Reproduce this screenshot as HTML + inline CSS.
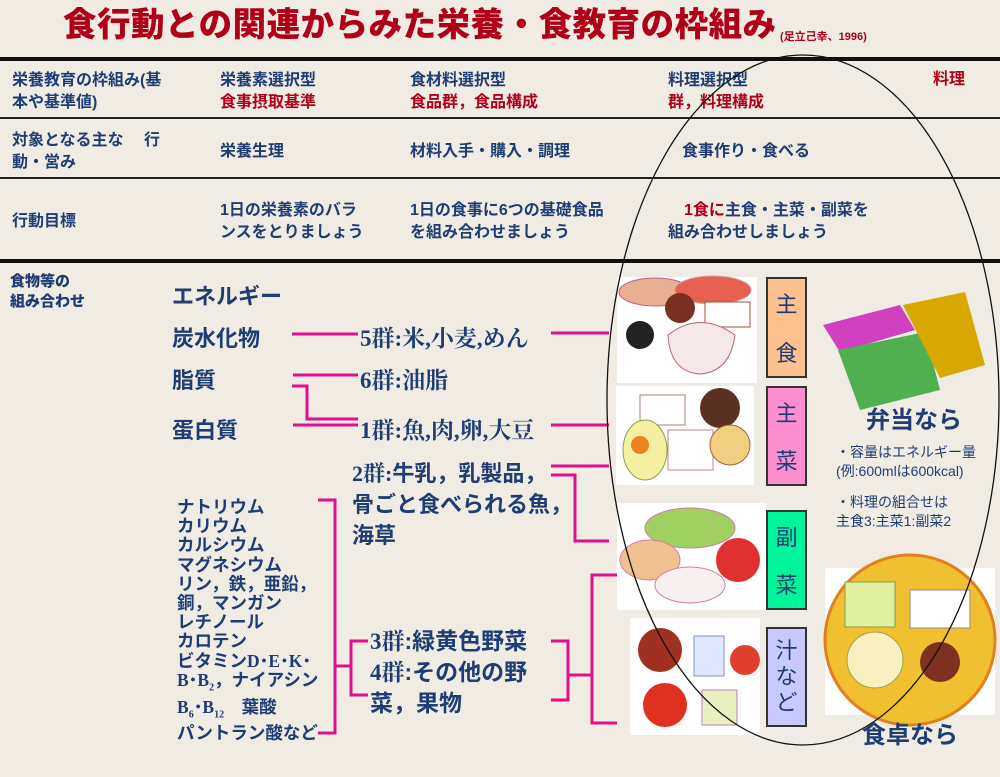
<!DOCTYPE html>
<html><head><meta charset="utf-8"><style>
body{margin:0;width:1000px;height:777px;background:#f0ece3;position:relative;overflow:hidden;font-family:"Liberation Sans","Noto Sans CJK JP",sans-serif;color:#1f3d73;font-weight:bold}
.t{position:absolute;white-space:nowrap;line-height:1.2}
.r{color:#b00018}
.s{font-family:"Liberation Serif","Noto Serif CJK SC",serif}
.bx{position:absolute;border:2px solid #333;box-sizing:border-box;width:41px;font-size:22px;font-weight:normal;color:#1f3d73;text-align:center;display:flex;flex-direction:column;justify-content:space-around;align-items:center}
</style></head><body>
<div class="t r" style="left:63px;top:6px;font-size:33.5px;letter-spacing:0.5px;font-weight:900">食行動との関連からみた栄養・食教育の枠組み</div>
<div class="t r" style="left:780px;top:31px;font-size:11px">(足立己幸、1996)</div>

<div class="t" style="left:12px;top:70px;font-size:16px;line-height:22px">栄養教育の枠組み(基<br>本や基準値)</div>
<div class="t" style="left:220px;top:70px;font-size:16px;line-height:22px">栄養素選択型<br><span class="r">食事摂取基準</span></div>
<div class="t" style="left:410px;top:70px;font-size:16px;line-height:22px">食材料選択型<br><span class="r">食品群，食品構成</span></div>
<div class="t" style="left:668px;top:70px;font-size:16px;line-height:22px">料理選択型<br><span class="r">群，料理構成</span></div>
<div class="t r" style="left:933px;top:70px;font-size:16px">料理</div>

<div class="t" style="left:12px;top:130px;font-size:16px;line-height:22px">対象となる主な　 行<br>動・営み</div>
<div class="t" style="left:220px;top:142px;font-size:16px">栄養生理</div>
<div class="t" style="left:410px;top:142px;font-size:16px">材料入手・購入・調理</div>
<div class="t" style="left:682px;top:142px;font-size:16px">食事作り・食べる</div>

<div class="t" style="left:12px;top:212px;font-size:16px">行動目標</div>
<div class="t" style="left:220px;top:200px;font-size:16px;line-height:22px">1日の栄養素のバラ<br>ンスをとりましょう</div>
<div class="t" style="left:410px;top:200px;font-size:16px;line-height:22px">1日の食事に6つの基礎食品<br>を組み合わせましょう</div>
<div class="t" style="left:668px;top:200px;font-size:16px;line-height:22px">　<span class="r">1食に</span>主食・主菜・副菜を<br>組み合わせしましょう</div>

<div style="position:absolute;left:0;top:57px;width:1000px;height:4px;background:#111"></div>
<div style="position:absolute;left:0;top:117px;width:1000px;height:2px;background:#222"></div>
<div style="position:absolute;left:0;top:177px;width:1000px;height:2px;background:#222"></div>
<div style="position:absolute;left:0;top:259px;width:1000px;height:4px;background:#111"></div>

<div class="t" style="left:10px;top:272px;font-size:15px;line-height:20px;font-weight:900">食物等の<br>組み合わせ</div>
<div class="t" style="left:172px;top:284px;font-size:22px">エネルギー</div>
<div class="t" style="left:172px;top:326px;font-size:22px">炭水化物</div>
<div class="t" style="left:172px;top:368px;font-size:22px">脂質</div>
<div class="t" style="left:172px;top:418px;font-size:22px">蛋白質</div>
<div class="t s" style="left:360px;top:325px;font-size:23px">5群:米,小麦,めん</div>
<div class="t s" style="left:360px;top:367px;font-size:23px">6群:油脂</div>
<div class="t s" style="left:360px;top:417px;font-size:23px">1群:魚,肉,卵,大豆</div>
<div class="t" style="left:352px;top:458px;font-size:22px;line-height:31px"><span class="s">2群:</span>牛乳，乳製品，<br>骨ごと食べられる魚，<br>海草</div>
<div class="t" style="left:177px;top:498px;font-size:17.5px;line-height:19.2px">ナトリウム<br>カリウム<br>カルシウム<br>マグネシウム<br>リン，鉄，亜鉛，<br>銅，マンガン<br>レチノール<br>カロテン<br>ビタミン<span class="s">D･E･K･</span><br><span class="s">B･B<sub style="font-size:10px">2</sub></span>，ナイアシン<br><span class="s">B<sub style="font-size:10px">6</sub>･B<sub style="font-size:10px">12</sub></span>　葉酸<br>パントラン酸など</div>
<div class="t" style="left:370px;top:626px;font-size:23px;line-height:30px"><span class="s">3群</span>:緑黄色野菜<br><span class="s">4群</span>:その他の野<br>菜，果物</div>

<svg style="position:absolute;left:0;top:0" width="1000" height="777">
<g stroke="#e0108c" stroke-width="3" fill="none">
<path d="M292 334H358M551 333H609M293 375H358M292 386H307V419H358M293 425H358M551 425H609M551 466H609M551 475H575V541H609M318 500H335V733H318M335 666H351M368 641H351V695H368M551 641H568V700H551M568 675H592M617 575H592V723H617"/>
</g>
<rect x="617" y="277" width="140" height="106" fill="#fff"/>
<ellipse cx="655" cy="292" rx="36" ry="14" fill="#e8b090" stroke="#c06080"/>
<ellipse cx="713" cy="290" rx="38" ry="14" fill="#e86050" stroke="#d0a0a0"/>
<circle cx="680" cy="308" r="15" fill="#7a3020"/>
<rect x="705" y="302" width="45" height="25" fill="#fff" stroke="#a05040"/>
<circle cx="640" cy="335" r="14" fill="#222"/>
<path d="M668 335Q700 310 735 335Q730 372 700 374Q670 372 668 335Z" fill="#f4e8e8" stroke="#c06080"/>
<rect x="616" y="386" width="138" height="99" fill="#fff"/>
<rect x="640" y="395" width="45" height="30" fill="#fff" stroke="#a08080"/>
<circle cx="720" cy="408" r="20" fill="#5a3020"/>
<ellipse cx="645" cy="450" rx="22" ry="30" fill="#f4f0a0" stroke="#80a050"/>
<circle cx="640" cy="445" r="9" fill="#f08020"/>
<rect x="668" y="430" width="45" height="40" fill="#fff" stroke="#c08080"/>
<circle cx="730" cy="445" r="20" fill="#f0d080" stroke="#a06040"/>
<rect x="617" y="503" width="149" height="107" fill="#fff"/>
<ellipse cx="690" cy="528" rx="45" ry="20" fill="#a0d060" stroke="#d080a0"/>
<ellipse cx="650" cy="560" rx="30" ry="20" fill="#f0c090" stroke="#d080a0"/>
<circle cx="738" cy="560" r="22" fill="#e03030"/>
<ellipse cx="690" cy="585" rx="35" ry="18" fill="#f8f0f0" stroke="#d080a0"/>
<rect x="630" y="618" width="130" height="117" fill="#fff"/>
<circle cx="660" cy="650" r="22" fill="#a03020"/>
<rect x="694" y="636" width="30" height="40" fill="#e0e8ff" stroke="#8090c0"/>
<circle cx="745" cy="660" r="15" fill="#e04030"/>
<circle cx="665" cy="705" r="22" fill="#e03020"/>
<rect x="702" y="690" width="35" height="35" fill="#e8f0c0" stroke="#c080c0"/>
<polygon points="823,325 900,305 915,330 840,352" fill="#d040c0"/>
<polygon points="838,350 925,332 940,390 860,410" fill="#50b050"/>
<polygon points="903,305 965,292 985,365 940,378" fill="#d8a800"/>
<rect x="825" y="568" width="170" height="147" fill="#fff"/>
<circle cx="910" cy="640" r="85" fill="#f0c030" stroke="#e08020" stroke-width="3"/>
<rect x="845" y="582" width="50" height="45" fill="#e0f0a0" stroke="#80a040"/>
<rect x="910" y="590" width="60" height="38" fill="#fff" stroke="#a08080"/>
<circle cx="875" cy="660" r="28" fill="#f8f0c0" stroke="#a0a040"/>
<circle cx="940" cy="662" r="20" fill="#803020"/>
<ellipse cx="803" cy="400" rx="196" ry="345" fill="none" stroke="#111" stroke-width="1.3"/>
</svg>
<div class="bx" style="left:766px;top:277px;height:101px;background:#fdc08f"><span>主</span><span>食</span></div>
<div class="bx" style="left:766px;top:386px;height:100px;background:#fd8fcf"><span>主</span><span>菜</span></div>
<div class="bx" style="left:766px;top:510px;height:100px;background:#00f59a"><span>副</span><span>菜</span></div>
<div class="bx" style="left:766px;top:627px;height:100px;background:#c9c9ff;justify-content:center;line-height:26px"><span>汁<br>な<br>ど</span></div>
<div class="t" style="left:866px;top:407px;font-size:24px">弁当なら</div>
<div class="t" style="left:836px;top:443px;font-size:14px;font-weight:normal;line-height:19px">・容量はエネルギー量<br>(例:600mlは600kcal)</div>
<div class="t" style="left:836px;top:493px;font-size:14px;font-weight:normal;line-height:19px">・料理の組合せは<br>主食3:主菜1:副菜2</div>
<div class="t" style="left:862px;top:722px;font-size:24px">食卓なら</div>
</body></html>
